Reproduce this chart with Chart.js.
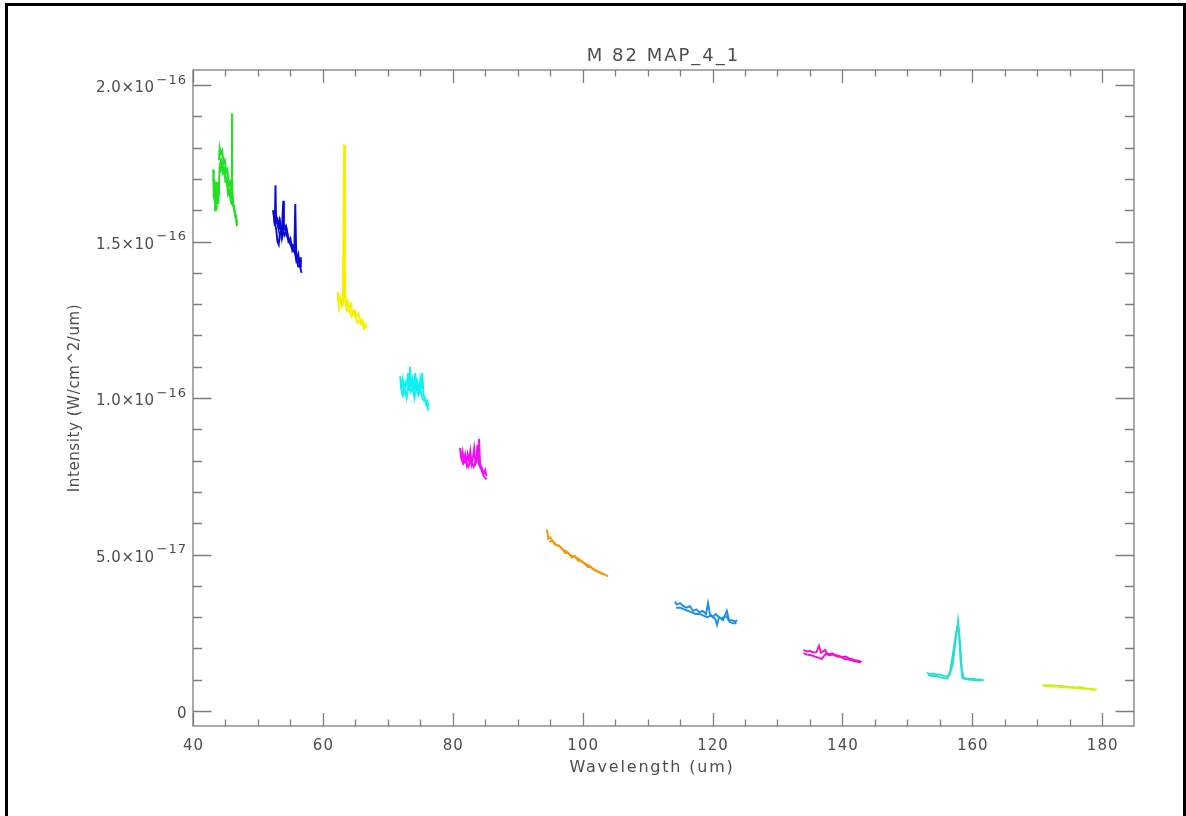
<!DOCTYPE html>
<html>
<head>
<meta charset="utf-8">
<title>M 82 MAP_4_1</title>
<script src="https://cdn.jsdelivr.net/npm/chart.js@4.4.1/dist/chart.umd.min.js"></script>
<style>
    html, body { margin: 0; padding: 0; background: #fff; }
    #wrap { width: 1186px; height: 816px; }
</style>
</head>
<body>
<div id="wrap"><canvas id="specChart" width="1186" height="816"></canvas></div>
<script>
/**
 * Spectrum of M 82 (MAP_4_1), one coloured piece per detector band.
 * Each piece is drawn from a few overlapping scans as plain lines.
 * Points are [wavelength (um), intensity in units of 1e-17 W/cm^2/um].
 */

const chartTitle = 'M 82 MAP_4_1';
const xAxisTitle = 'Wavelength (um)';
const yAxisTitle = 'Intensity (W/cm^2/um)';

const INTENSITY_UNIT = 1e-17;

// Ticks (x in um, y in units of 1e-17)
const xMajorTicks = [40, 60, 80, 100, 120, 140, 160, 180];
const xMinorTicks = [40, 45, 50, 55, 60, 65, 70, 75, 80, 85, 90, 95, 100, 105, 110, 115, 120, 125, 130, 135, 140, 145, 150, 155, 160, 165, 170, 175, 180];
const yMajorTicks = [0, 5, 10, 15, 20];
const yMinorTicks = [0, 1, 2, 3, 4, 5, 6, 7, 8, 9, 10, 11, 12, 13, 14, 15, 16, 17, 18, 19, 20];
const yTickLabels = [['0', ''], ['5.0×10', '−17'], ['1.0×10', '−16'], ['1.5×10', '−16'], ['2.0×10', '−16']];

// Band 1 (green)
const greenScanA = [[43.1, 17.3], [43.2, 16.4], [43.3, 17.0], [43.4, 16.0], [43.5, 16.7], [43.6, 16.2], [43.7, 16.9], [43.8, 16.3], [43.9, 16.8], [44.0, 16.5]];
const greenScanB = [[44.0, 17.6], [44.1, 18.0], [44.3, 17.8], [44.5, 17.9], [44.7, 17.5], [44.9, 17.6], [45.1, 17.2], [45.3, 17.3], [45.5, 16.8], [45.7, 16.9], [45.9, 16.4], [46.1, 16.5], [46.3, 16.0], [46.5, 15.9], [46.7, 15.6], [46.8, 15.7]];
const greenScanC = [[44.2, 17.2], [44.4, 17.5], [44.6, 17.2], [44.8, 17.3], [45.0, 16.9], [45.2, 16.9], [45.4, 16.5], [45.6, 16.6], [45.8, 16.3], [45.95, 16.2], [46.0, 19.1], [46.05, 16.2], [46.3, 16.1], [46.6, 15.8], [46.8, 15.5]];
const greenScanD = [[43.2, 17.0], [43.3, 16.3], [43.5, 16.9], [43.6, 16.0], [43.8, 16.6], [43.9, 16.2], [44.1, 17.4], [44.3, 17.6], [44.6, 17.4], [44.9, 17.1], [45.2, 17.0], [45.5, 16.6], [45.8, 16.5], [46.2, 16.2], [46.6, 15.7]];

// Band 2 (blue)
const blueScanA = [[52.4, 15.9], [52.6, 15.5], [52.7, 16.8], [52.8, 15.6], [53.0, 15.7], [53.2, 15.4], [53.4, 15.6], [53.6, 15.2], [53.8, 15.4], [54.0, 15.5], [54.3, 15.3], [54.6, 15.1], [54.9, 15.0], [55.2, 14.8], [55.5, 14.7], [55.8, 14.6], [56.1, 14.5], [56.4, 14.3], [56.7, 14.4]];
const blueScanB = [[52.5, 15.7], [52.8, 15.4], [53.0, 15.0], [53.2, 14.9], [53.4, 15.3], [53.7, 15.4], [53.9, 16.3], [54.0, 15.4], [54.3, 15.5], [54.6, 15.2], [55.0, 14.9], [55.3, 14.9], [55.6, 14.7], [55.75, 16.2], [55.9, 14.5], [56.2, 14.2], [56.5, 14.2], [56.7, 14.0]];
const blueScanC = [[52.3, 16.0], [52.5, 15.8], [52.7, 15.9], [52.9, 15.7], [53.1, 15.5], [53.3, 15.7], [53.5, 15.5], [53.7, 15.1], [53.9, 15.3], [54.1, 15.2], [54.4, 15.4], [54.7, 15.0], [55.0, 15.1], [55.3, 14.7], [55.6, 14.8], [55.9, 14.4], [56.2, 14.6], [56.5, 14.2], [56.6, 14.5]];

// Band 3 (yellow)
const yellowScanA = [[62.2, 13.1], [62.3, 13.4], [62.5, 12.9], [62.7, 13.2], [62.9, 13.0], [63.1, 13.3], [63.26, 18.1], [63.4, 13.2], [63.6, 12.9], [63.8, 13.1], [64.0, 12.8], [64.3, 13.0], [64.6, 12.7], [64.9, 12.8], [65.2, 12.6], [65.5, 12.7], [65.8, 12.4], [66.1, 12.5], [66.4, 12.3], [66.7, 12.4]];
const yellowScanB = [[62.9, 12.9], [63.1, 13.0], [63.3, 16.0], [63.35, 17.5], [63.45, 13.1], [63.7, 12.8], [64.0, 12.9], [64.4, 12.6], [64.8, 12.7], [65.3, 12.4], [65.8, 12.5], [66.3, 12.2], [66.8, 12.3]];

// Band 4 (cyan)
const cyanScanA = [[71.9, 10.7], [72.1, 10.3], [72.3, 10.6], [72.5, 10.2], [72.7, 10.5], [72.9, 10.4], [73.1, 10.8], [73.3, 10.3], [73.4, 11.0], [73.6, 10.4], [73.8, 10.6], [74.0, 10.2], [74.2, 10.8], [74.4, 10.3], [74.6, 10.5], [74.8, 10.1], [75.0, 10.6], [75.2, 10.3], [75.3, 10.8], [75.5, 10.1], [75.7, 10.0], [75.9, 9.8], [76.1, 9.9], [76.3, 9.7]];
const cyanScanB = [[72.0, 10.4], [72.3, 10.1], [72.6, 10.3], [72.9, 10.0], [73.2, 10.4], [73.5, 10.2], [73.8, 10.3], [74.1, 10.0], [74.4, 10.5], [74.7, 10.1], [75.0, 10.3], [75.3, 10.0], [75.6, 9.9], [75.9, 9.9], [76.2, 9.6]];

// Band 5 (magenta)
const magentaScanA = [[81.1, 8.4], [81.3, 8.1], [81.5, 8.3], [81.7, 8.0], [81.9, 8.2], [82.1, 7.9], [82.3, 8.2], [82.5, 8.0], [82.7, 8.3], [82.9, 7.9], [83.1, 8.1], [83.3, 8.4], [83.5, 7.9], [83.7, 8.0], [83.9, 8.1], [84.05, 8.7], [84.2, 7.9], [84.4, 7.8], [84.6, 7.7], [84.8, 7.6], [85.0, 7.7], [85.2, 7.5]];
const magentaScanB = [[81.2, 8.2], [81.6, 7.9], [82.0, 8.0], [82.4, 7.8], [82.8, 8.0], [83.2, 7.8], [83.6, 8.0], [83.8, 8.5], [84.0, 7.9], [84.4, 7.7], [84.8, 7.5], [85.2, 7.4]];

// Band 6 (orange)
const orangeScanA = [[94.5, 5.8], [94.7, 5.5], [95.0, 5.55], [95.5, 5.4], [96.0, 5.3], [96.5, 5.25], [97.0, 5.15], [97.5, 5.1], [98.0, 5.0], [98.5, 4.95], [99.0, 4.9], [99.5, 4.85], [100.0, 4.75], [100.5, 4.7], [101.0, 4.65], [101.5, 4.55], [102.0, 4.5], [102.5, 4.45], [103.0, 4.4], [103.5, 4.35], [103.9, 4.3]];
const orangeScanB = [[94.8, 5.4], [95.3, 5.45], [95.8, 5.3], [96.3, 5.3], [96.8, 5.2], [97.3, 5.05], [97.8, 5.05], [98.3, 4.9], [98.8, 4.95], [99.3, 4.8], [99.8, 4.8], [100.3, 4.7], [100.8, 4.6], [101.3, 4.6], [101.8, 4.5], [102.3, 4.45], [102.8, 4.4], [103.3, 4.35]];

// Band 7 (sky blue)
const skyScanA = [[114.2, 3.5], [114.5, 3.4], [115.0, 3.45], [115.5, 3.35], [116.0, 3.3], [116.5, 3.35], [117.0, 3.2], [117.5, 3.25], [118.0, 3.15], [118.5, 3.2], [119.0, 3.1], [119.3, 3.45], [119.6, 3.1], [120.0, 3.0], [120.5, 3.1], [121.0, 3.0], [121.5, 2.95], [122.0, 3.05], [122.5, 2.9], [123.0, 2.9], [123.5, 2.85], [123.8, 2.9]];
const skyScanB = [[114.4, 3.3], [115.0, 3.3], [115.6, 3.25], [116.2, 3.2], [116.8, 3.15], [117.4, 3.1], [118.0, 3.1], [118.6, 3.05], [119.2, 3.0], [119.8, 3.05], [120.4, 2.95], [120.7, 2.75], [121.0, 3.0], [121.6, 2.9], [122.2, 3.2], [122.6, 2.85], [123.2, 2.8], [123.7, 2.8]];

// Band 8 (pink)
const pinkScanA = [[134.0, 1.95], [134.5, 1.9], [135.0, 1.92], [135.5, 1.87], [136.0, 1.88], [136.4, 2.08], [136.7, 1.86], [137.0, 1.9], [137.3, 1.95], [137.6, 1.85], [138.0, 1.82], [138.5, 1.84], [139.0, 1.78], [139.5, 1.76], [140.0, 1.72], [140.5, 1.74], [141.0, 1.68], [141.5, 1.66], [142.0, 1.62], [142.5, 1.6], [143.0, 1.57]];
const pinkScanB = [[134.0, 1.85], [134.6, 1.8], [135.2, 1.78], [135.8, 1.74], [136.4, 1.7], [136.8, 1.66], [137.4, 1.82], [138.0, 1.78], [138.6, 1.8], [139.2, 1.74], [139.8, 1.72], [140.4, 1.66], [141.0, 1.64], [141.6, 1.6], [142.2, 1.58], [142.8, 1.55]];

// Band 9 (turquoise, strong line near 158 um)
const turquoiseScanA = [[153.0, 1.22], [153.5, 1.18], [154.0, 1.2], [154.5, 1.16], [155.0, 1.17], [155.5, 1.12], [156.0, 1.1], [156.5, 1.15], [157.0, 1.5], [157.4, 2.2], [157.8, 2.88], [158.1, 2.2], [158.4, 1.3], [158.7, 1.05], [159.2, 1.04], [159.7, 1.02], [160.2, 1.03], [160.7, 1.0], [161.2, 1.01], [161.8, 0.98]];
const turquoiseScanB = [[153.2, 1.15], [153.8, 1.12], [154.4, 1.12], [155.0, 1.08], [155.6, 1.05], [156.2, 1.04], [156.6, 1.3], [157.0, 1.8], [157.5, 2.5], [157.8, 2.7], [158.0, 2.3], [158.2, 1.6], [158.5, 1.05], [159.0, 1.02], [159.8, 1.0], [160.6, 0.98], [161.4, 0.97]];

// Band 10 (yellow-green)
const limeScanA = [[170.8, 0.84], [171.5, 0.82], [172.2, 0.83], [173.0, 0.8], [173.8, 0.8], [174.5, 0.78], [175.3, 0.77], [176.0, 0.75], [176.8, 0.76], [177.5, 0.72], [178.3, 0.71], [179.2, 0.68]];
const limeScanB = [[171.0, 0.8], [172.0, 0.79], [173.0, 0.78], [174.0, 0.76], [175.0, 0.75], [176.0, 0.73], [177.0, 0.72], [178.0, 0.7], [179.0, 0.67]];

const bands = [
    [greenScanA, greenScanB, greenScanC, greenScanD],
    [blueScanA, blueScanB, blueScanC],
    [yellowScanA, yellowScanB],
    [cyanScanA, cyanScanB],
    [magentaScanA, magentaScanB],
    [orangeScanA, orangeScanB],
    [skyScanA, skyScanB],
    [pinkScanA, pinkScanB],
    [turquoiseScanA, turquoiseScanB],
    [limeScanA, limeScanB]
];
const bandColors = ['#22e022', '#0a0ad8', '#f4f000', '#10f0f0', '#f010f0', '#ee9a10', '#1a90e8', '#f010d0', '#28dcd2', '#d0f014'];

// Build one line dataset per scan
const datasets = [];
bands.forEach((scans, b) => {
    scans.forEach(scan => {
        datasets.push({
            data: scan.map(p => ({ x: p[0], y: p[1] * INTENSITY_UNIT })),
            borderColor: bandColors[b],
            borderWidth: 1.9,
            pointRadius: 0,
            showLine: true,
            fill: false,
            tension: 0
        });
    });
});

const FONT = '"DejaVu Sans", "Liberation Sans", sans-serif';
const TEXT_COLOR = '#4d4d4d';
const AXIS_COLOR = '#7d7d7d';

// IDL style box: inward ticks on all four sides, labels and titles
const idlAxesPlugin = {
    id: 'idlAxes',
    afterDraw(chart) {
        const { ctx, chartArea: a } = chart;
        const x = chart.scales.x;
        const y = chart.scales.y;
        ctx.save();

        // Page frame
        ctx.strokeStyle = '#000';
        ctx.lineWidth = 3;
        ctx.strokeRect(6.5, 4.5, 1178, 830);

        // Plot box and ticks
        ctx.strokeStyle = AXIS_COLOR;
        ctx.lineWidth = 1.3;
        ctx.strokeRect(a.left, a.top, a.right - a.left, a.bottom - a.top);
        ctx.beginPath();
        xMinorTicks.forEach(v => {
            const px = Math.round(x.getPixelForValue(v)) + 0.5;
            const len = xMajorTicks.includes(v) ? 13 : 6.5;
            ctx.moveTo(px, a.bottom); ctx.lineTo(px, a.bottom - len);
            ctx.moveTo(px, a.top); ctx.lineTo(px, a.top + len);
        });
        yMinorTicks.forEach(v => {
            const py = Math.round(y.getPixelForValue(v * INTENSITY_UNIT)) + 0.5;
            const len = yMajorTicks.includes(v) ? 18.5 : 9;
            ctx.moveTo(a.left, py); ctx.lineTo(a.left + len, py);
            ctx.moveTo(a.right, py); ctx.lineTo(a.right - len, py);
        });
        ctx.stroke();

        ctx.fillStyle = TEXT_COLOR;

        // X tick labels
        ctx.font = '15px ' + FONT;
        ctx.letterSpacing = '1px';
        ctx.textAlign = 'center';
        ctx.textBaseline = 'alphabetic';
        xMajorTicks.forEach(v => {
            ctx.fillText(String(v), x.getPixelForValue(v) + 0.5, a.bottom + 24);
        });

        // Y tick labels with exponent
        ctx.textAlign = 'right';
        yMajorTicks.forEach((v, i) => {
            const py = y.getPixelForValue(v * INTENSITY_UNIT);
            const [mant, exp] = yTickLabels[i];
            let right = a.left - 6;
            if (exp) {
                ctx.font = '13px ' + FONT;
                ctx.letterSpacing = '1px';
                ctx.fillText(exp, right, py - 1.5);
                right -= ctx.measureText(exp).width + 2;
            }
            ctx.font = '15px ' + FONT;
            ctx.letterSpacing = '0.5px';
            ctx.fillText(mant, right, py + 7);
        });

        // Titles
        const cx = (a.left + a.right) / 2;
        ctx.textAlign = 'center';
        ctx.font = '18px ' + FONT;
        ctx.letterSpacing = '2px';
        ctx.fillText(chartTitle, cx, 61);

        ctx.font = '16px ' + FONT;
        ctx.letterSpacing = '1.8px';
        ctx.fillText(xAxisTitle, 652, 772);

        ctx.font = '15px ' + FONT;
        ctx.letterSpacing = '0.6px';
        ctx.translate(79, (a.top + a.bottom) / 2);
        ctx.rotate(-Math.PI / 2);
        ctx.fillText(yAxisTitle, 0, 0);

        ctx.restore();
    }
};

document.addEventListener('DOMContentLoaded', function() {
    const canvas = document.getElementById('specChart');
    if (!canvas) {
        console.info('Canvas not found.');
        return;
    }

    new Chart(canvas.getContext('2d'), {
        type: 'scatter',
        data: { datasets: datasets },
        options: {
            responsive: false,
            animation: false,
            devicePixelRatio: 1,
            layout: {
                padding: { left: 193, top: 70, right: 52, bottom: 90 }
            },
            plugins: {
                legend: { display: false },
                tooltip: { enabled: false },
                title: { display: false }
            },
            scales: {
                x: { type: 'linear', min: 40, max: 184.9, display: false },
                y: { type: 'linear', min: -4.79e-18, max: 2.048e-16, display: false }
            }
        },
        plugins: [idlAxesPlugin]
    });
});
</script>
</body>
</html>
